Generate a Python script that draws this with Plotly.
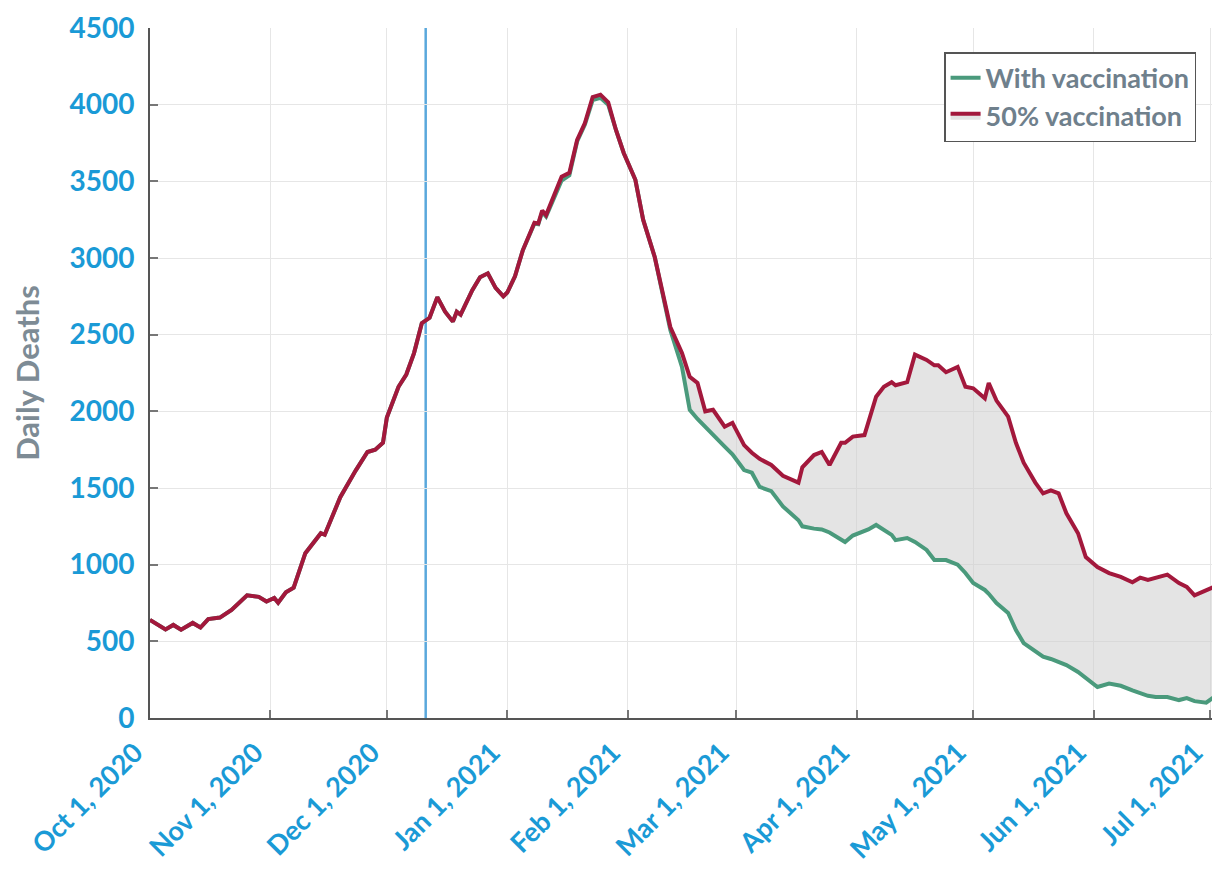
import pandas as pd
import plotly.graph_objects as go

# --- données (décès quotidiens) ---
dates = [
    "2020-10-01", "2020-10-05", "2020-10-07", "2020-10-09", "2020-10-12", "2020-10-14",
    "2020-10-16", "2020-10-19", "2020-10-22", "2020-10-26", "2020-10-29", "2020-10-31",
    "2020-11-02", "2020-11-03", "2020-11-05", "2020-11-07", "2020-11-10", "2020-11-14",
    "2020-11-15", "2020-11-19", "2020-11-23", "2020-11-26", "2020-11-28", "2020-11-30",
    "2020-12-01", "2020-12-04", "2020-12-06", "2020-12-08", "2020-12-10", "2020-12-12",
    "2020-12-14", "2020-12-16", "2020-12-18", "2020-12-19", "2020-12-20", "2020-12-23",
    "2020-12-25", "2020-12-27", "2020-12-29", "2020-12-31", "2021-01-01", "2021-01-03",
    "2021-01-05", "2021-01-08", "2021-01-09", "2021-01-10", "2021-01-11", "2021-01-14",
    "2021-01-15", "2021-01-17", "2021-01-19", "2021-01-21", "2021-01-23", "2021-01-25",
    "2021-01-27", "2021-01-29", "2021-01-31", "2021-02-03", "2021-02-05", "2021-02-08",
    "2021-02-10", "2021-02-12", "2021-02-15", "2021-02-17", "2021-02-19", "2021-02-21",
    "2021-02-23", "2021-02-26", "2021-02-28", "2021-03-03", "2021-03-05", "2021-03-07",
    "2021-03-10", "2021-03-13", "2021-03-17", "2021-03-18", "2021-03-21", "2021-03-23",
    "2021-03-25", "2021-03-28", "2021-03-29", "2021-03-31", "2021-04-03", "2021-04-04",
    "2021-04-06", "2021-04-08", "2021-04-10", "2021-04-11", "2021-04-14", "2021-04-16",
    "2021-04-19", "2021-04-21", "2021-04-22", "2021-04-24", "2021-04-27", "2021-04-29",
    "2021-05-01", "2021-05-04", "2021-05-05", "2021-05-07", "2021-05-10", "2021-05-12",
    "2021-05-14", "2021-05-17", "2021-05-19", "2021-05-21", "2021-05-23", "2021-05-25",
    "2021-05-28", "2021-05-30", "2021-06-02", "2021-06-05", "2021-06-08", "2021-06-11",
    "2021-06-13", "2021-06-15", "2021-06-17", "2021-06-20", "2021-06-23", "2021-06-25",
    "2021-06-27", "2021-06-30", "2021-07-02", "2021-07-04",
]

half_vacc = [
    640, 578, 607, 576, 620, 590,
    645, 655, 705, 800, 790, 760,
    783, 752, 820, 850, 1075, 1205,
    1195, 1440, 1615, 1735, 1750, 1795,
    1960, 2160, 2240, 2380, 2575, 2610,
    2745, 2650, 2585, 2650, 2630, 2790,
    2875, 2900, 2805, 2750, 2775, 2880,
    3050, 3230, 3225, 3310, 3280, 3460,
    3530, 3555, 3770, 3880, 4050, 4065,
    4015, 3835, 3685, 3510, 3250, 3005,
    2770, 2550, 2380, 2225, 2185, 2000,
    2010, 1900, 1925, 1780, 1730, 1690,
    1650, 1580, 1535, 1635, 1715, 1735,
    1650, 1795, 1795, 1835, 1845, 1925,
    2095, 2160, 2190, 2170, 2190, 2370,
    2335, 2300, 2300, 2255, 2290, 2160,
    2150, 2085, 2185, 2070, 1965, 1795,
    1665, 1535, 1465, 1485, 1465, 1335,
    1205, 1050, 985, 945, 920, 885,
    915, 900, 915, 935, 880, 855,
    800, 835, 855, 905,
]

with_vacc = [
    640, 578, 607, 576, 620, 590,
    645, 655, 705, 800, 790, 760,
    783, 752, 820, 850, 1075, 1205,
    1195, 1440, 1615, 1735, 1750, 1795,
    1960, 2160, 2240, 2380, 2575, 2610,
    2745, 2650, 2585, 2650, 2630, 2790,
    2875, 2900, 2805, 2750, 2775, 2880,
    3050, 3225, 3220, 3300, 3270, 3450,
    3505, 3540, 3760, 3870, 4030, 4045,
    4000, 3835, 3685, 3510, 3250, 3005,
    2770, 2530, 2290, 2010, 1950, 1898,
    1840, 1770, 1720, 1617, 1600, 1507,
    1480, 1380, 1290, 1250, 1235, 1230,
    1210, 1165, 1148, 1190, 1220, 1230,
    1259, 1226, 1194, 1160, 1174, 1148,
    1096, 1030, 1030, 1030, 1000, 946,
    880, 835, 810, 750, 685, 574,
    489, 431, 400, 385, 365, 345,
    300, 261, 202, 225, 210, 180,
    163, 145, 137, 137, 117, 130,
    110, 100, 137, 175,
]

tick_dates = [
    "2020-10-01", "2020-11-01", "2020-12-01", "2021-01-01", "2021-02-01",
    "2021-03-01", "2021-04-01", "2021-05-01", "2021-06-01", "2021-07-01",
]
tick_labels = [
    "Oct 1, 2020", "Nov 1, 2020", "Dec 1, 2020", "Jan 1, 2021", "Feb 1, 2021",
    "Mar 1, 2021", "Apr 1, 2021", "May 1, 2021", "Jun 1, 2021", "Jul 1, 2021",
]
y_ticks = [0, 500, 1000, 1500, 2000, 2500, 3000, 3500, 4000, 4500]
vaccine_start = "2020-12-11"

BLUE = "#1a9ad6"
GREY_TXT = "#6f808c"
GREEN = "#4a9a7c"
RED = "#a3183c"

x = pd.to_datetime(dates)

fig = go.Figure()
fig.add_trace(
    go.Scatter(
        x=x,
        y=with_vacc,
        mode="lines",
        line=dict(color=GREEN, width=4),
        name="With vaccination",
    )
)
fig.add_trace(
    go.Scatter(
        x=x,
        y=half_vacc,
        mode="lines",
        line=dict(color=RED, width=4),
        fill="tonexty",
        fillcolor="rgba(205,205,205,0.55)",
        name="50% vaccination",
    )
)

fig.add_vline(x=pd.Timestamp(vaccine_start).timestamp() * 1000,
              line=dict(color="#5aa8dc", width=2.5), layer="below")

# la page ajoute 8 px de marge de chaque côté : figure en 1204 x 860
fig.update_layout(
    width=1204,
    height=860,
    margin=dict(l=142, r=0, t=20, b=150),
    paper_bgcolor="white",
    plot_bgcolor="white",
    font=dict(family="Lato", color=BLUE),
    showlegend=True,
    legend=dict(
        x=0.985, y=0.965, xanchor="right", yanchor="top",
        traceorder="normal",
        bgcolor="white", bordercolor="#555555", borderwidth=1.5,
        font=dict(family="Lato", size=27, color=GREY_TXT, weight="bold"),
        tracegroupgap=0,
    ),
)
fig.update_xaxes(
    range=[pd.Timestamp("2020-10-01"), pd.Timestamp("2021-07-01 12:00")],
    tickvals=pd.to_datetime(tick_dates),
    ticktext=tick_labels,
    tickangle=-45,
    ticklabeloverflow="allow",
    ticklabelstandoff=6,
    ticklabelshift=-15,
    automargin=False,
    tickfont=dict(family="Lato", size=27, color=BLUE, weight="bold"),
    ticks="inside", ticklen=8, tickcolor="#777777", tickwidth=1.5,
    showline=True, linecolor="#555555", linewidth=2,
    showgrid=True, gridcolor="#e6e6e6", gridwidth=1,
    zeroline=False,
)
fig.update_yaxes(
    range=[0, 4500],
    tickvals=y_ticks,
    tickfont=dict(family="Lato", size=28, color=BLUE, weight="bold"),
    ticklabelstandoff=8,
    ticks="inside", ticklen=8, tickcolor="#777777", tickwidth=1.5,
    showline=True, linecolor="#555555", linewidth=2,
    showgrid=True, gridcolor="#e6e6e6", gridwidth=1,
    zeroline=False,
    title=dict(text="Daily Deaths", standoff=26,
               font=dict(family="Lato", size=31, color="#7d8b95", weight="bold")),
)

fig.write_html("out.html")
